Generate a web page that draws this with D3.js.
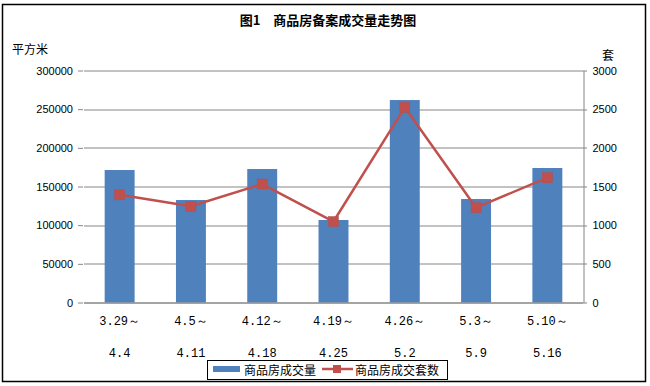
<!DOCTYPE html>
<html>
<head>
<meta charset="UTF-8">
<title>商品房备案成交量走势图</title>
<script src="https://cdn.jsdelivr.net/npm/d3@7"></script>
<style>
  body { margin: 0; background: #fff; }
  text { font-family: "Liberation Sans", Arial, sans-serif; fill: #000; }
  .cjk { font-family: "Noto Sans CJK SC", sans-serif; }
</style>
</head>
<body>
<script>
// data
var weeksTop = ['3.29～', '4.5～', '4.12～', '4.19～', '4.26～', '5.3～', '5.10～'];
var weeksBottom = ['4.4', '4.11', '4.18', '4.25', '5.2', '5.9', '5.16'];
var area = [171300, 132500, 172600, 106700, 261800, 133800, 173900];   // 平方米
var units = [1392, 1244, 1532, 1047, 2524, 1226, 1614];                 // 套
var leftTicks = [0, 50000, 100000, 150000, 200000, 250000, 300000];
var rightTicks = [0, 500, 1000, 1500, 2000, 2500, 3000];

var W = 650, H = 386;
var margin = {top: 70.5, right: 67, bottom: 83.5, left: 84},
    width = W - margin.left - margin.right,
    height = H - margin.top - margin.bottom;

var blue = '#4F81BD', red = '#C0504D', grid = '#868686';

var svg = d3.select('body').append('svg')
    .attr('width', W).attr('height', H);

// outer frame
svg.append('rect')
    .attr('x', 2.5).attr('y', 4.5)
    .attr('width', 643).attr('height', 377)
    .attr('fill', 'none').attr('stroke', '#000').attr('stroke-width', 1.5);

// title
svg.append('text')
    .attr('class', 'cjk')
    .attr('x', 328).attr('y', 25)
    .attr('text-anchor', 'middle')
    .style('font-size', '13px').style('font-weight', 'bold')
    .text('图1　商品房备案成交量走势图');

// axis titles
svg.append('text').attr('class', 'cjk')
    .attr('x', 12).attr('y', 54)
    .style('font-size', '12px').text('平方米');
svg.append('text').attr('class', 'cjk')
    .attr('x', 602).attr('y', 60)
    .style('font-size', '12px').text('套');

var g = svg.append('g')
    .attr('transform', 'translate(' + margin.left + ',' + margin.top + ')');

// scales
var x = d3.scaleBand().domain(d3.range(weeksTop.length))
    .range([0, width]).paddingInner(0.58).paddingOuter(0.29);
var yL = d3.scaleLinear().domain([0, 300000]).range([height, 0]);
var yR = d3.scaleLinear().domain([0, 3000]).range([height, 0]);

// gridlines (right axis ticks extend past)
g.append('g').selectAll('line').data(leftTicks).join('line')
    .attr('x1', 0).attr('x2', width + 4)
    .attr('y1', function(d) { return Math.round(yL(d)) + 0.5; })
    .attr('y2', function(d) { return Math.round(yL(d)) + 0.5; })
    .attr('stroke', grid).attr('stroke-width', 1);

// left axis: no line, small ticks
var leftAxis = d3.axisLeft(yL).tickValues(leftTicks).tickSize(5).tickPadding(5)
    .tickFormat(d3.format('d'));
var la = g.append('g').attr('transform', 'translate(-1,0)').call(leftAxis);
la.select('.domain').remove();
la.selectAll('.tick line').attr('stroke', grid);
la.selectAll('.tick text').style('font-size', '11px').attr('fill', '#000');

// right axis
var rightAxis = d3.axisRight(yR).tickValues(rightTicks).tickSize(0).tickPadding(9)
    .tickFormat(d3.format('d'));
var ra = g.append('g').attr('transform', 'translate(' + (width + 0.5) + ',0)').call(rightAxis);
ra.select('.domain').attr('stroke', grid);
ra.selectAll('.tick text').style('font-size', '11px').attr('fill', '#000');

// bars
g.append('g').selectAll('rect').data(area).join('rect')
    .attr('x', function(d, i) { return x(i); })
    .attr('width', x.bandwidth())
    .attr('y', function(d) { return yL(d); })
    .attr('height', function(d) { return height - yL(d); })
    .attr('fill', blue);

// bottom axis line redrawn over bars
g.append('line')
    .attr('x1', 0).attr('x2', width)
    .attr('y1', Math.round(height) + 0.5).attr('y2', Math.round(height) + 0.5)
    .attr('stroke', grid);

// line
var cx = function(i) { return x(i) + x.bandwidth() / 2; };
var line = d3.line()
    .x(function(d, i) { return cx(i); })
    .y(function(d) { return yR(d); });
g.append('path').datum(units)
    .attr('d', line)
    .attr('fill', 'none').attr('stroke', red).attr('stroke-width', 2.5)
    .attr('stroke-linejoin', 'round');
g.append('g').selectAll('rect').data(units).join('rect')
    .attr('x', function(d, i) { return cx(i) - 5; })
    .attr('y', function(d) { return yR(d) - 5; })
    .attr('width', 10).attr('height', 10)
    .attr('fill', red).attr('stroke', '#B84D4A').attr('stroke-width', 0.5);

// category labels (two lines)
var labels = g.append('g').selectAll('g').data(weeksTop).join('g')
    .attr('transform', function(d, i) { return 'translate(' + cx(i) + ',0)'; });
labels.append('text')
    .attr('y', height + 22).attr('text-anchor', 'middle')
    .style('font-family', '"Liberation Mono", monospace').style('font-size', '12px')
    .text(function(d) { return d; });
labels.append('text')
    .attr('y', height + 54).attr('text-anchor', 'middle')
    .style('font-family', '"Liberation Mono", monospace').style('font-size', '12px')
    .text(function(d, i) { return weeksBottom[i]; });

// legend
var lg = svg.append('g');
lg.append('rect')
    .attr('x', 207.5).attr('y', 360.5).attr('width', 240).attr('height', 19)
    .attr('fill', '#fff').attr('stroke', '#000').attr('stroke-width', 1);
lg.append('rect')
    .attr('x', 213).attr('y', 366).attr('width', 27).attr('height', 6)
    .attr('fill', blue);
lg.append('text').attr('class', 'cjk')
    .attr('x', 244).attr('y', 374.5).style('font-size', '12px')
    .text('商品房成交量');
lg.append('line')
    .attr('x1', 322).attr('x2', 353).attr('y1', 369).attr('y2', 369)
    .attr('stroke', red).attr('stroke-width', 2.5);
lg.append('rect')
    .attr('x', 333).attr('y', 365).attr('width', 8).attr('height', 8)
    .attr('fill', red);
lg.append('text').attr('class', 'cjk')
    .attr('x', 355).attr('y', 374.5).style('font-size', '12px')
    .text('商品房成交套数');
</script>
</body>
</html>
